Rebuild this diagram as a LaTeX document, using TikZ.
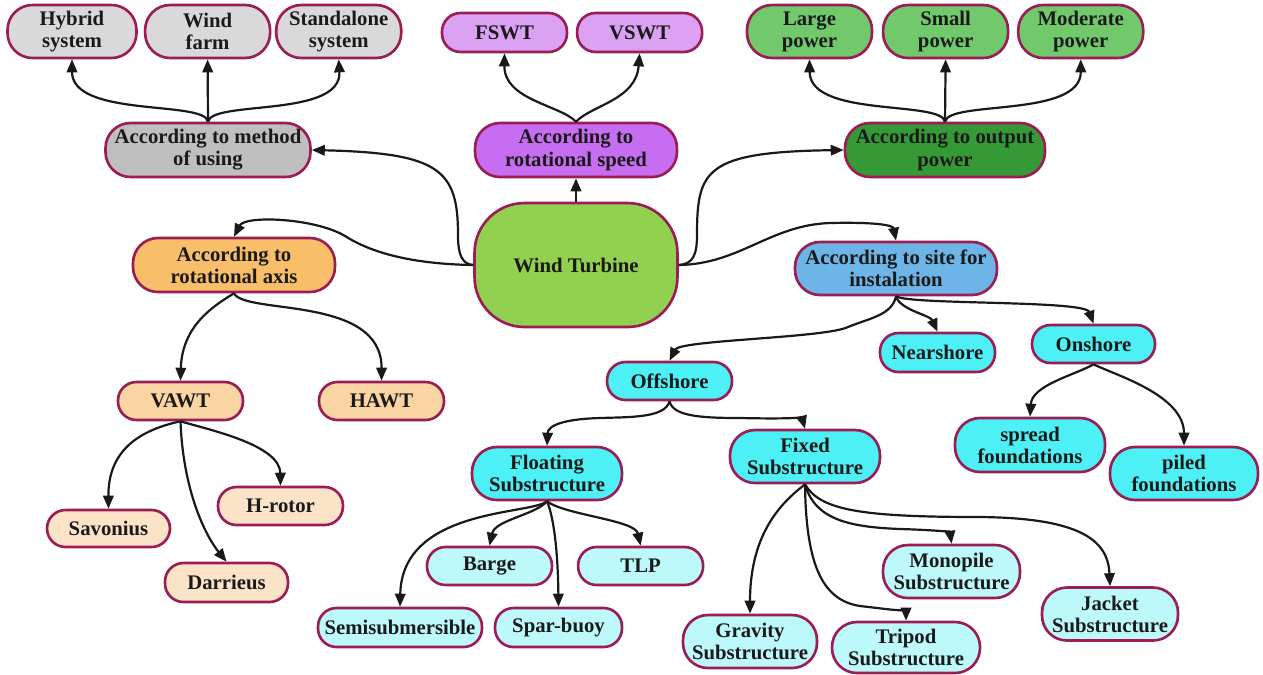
\documentclass[tikz,border=0pt]{standalone}
\usepackage{fontspec}
\setmainfont{Liberation Serif}
\usetikzlibrary{arrows.meta,positioning}
\definecolor{rim}{HTML}{9B1D55}
\definecolor{ink}{HTML}{1A1A1A}
\definecolor{turbgreen}{HTML}{92D050}
\definecolor{uselight}{HTML}{D9D9D9}
\definecolor{usedark}{HTML}{BFBFBF}
\definecolor{speedlight}{HTML}{DBA2F4}
\definecolor{speeddark}{HTML}{C76DF2}
\definecolor{powerlight}{HTML}{72C96C}
\definecolor{powerdark}{HTML}{359A35}
\definecolor{axisorange}{HTML}{F8BE6A}
\definecolor{axislight}{HTML}{F9D5A4}
\definecolor{rotorcream}{HTML}{FBE3C7}
\definecolor{siteblue}{HTML}{6DB5E6}
\definecolor{shorecyan}{HTML}{4DF0F5}
\definecolor{subpale}{HTML}{BDF8FA}

\begin{document}
\begin{tikzpicture}[
    x=0.02cm, y=-0.02cm,
    font=\bfseries\fontsize{11.8}{12.6}\selectfont,
    text=ink,
    bubble/.style={
        draw=rim,
        line width=1.5pt,
        rounded corners=3.7mm,
        align=center,
        inner sep=0pt,
        minimum width=2.5cm,
        minimum height=0.76cm
    },
    tall/.style={bubble, rounded corners=5mm, minimum height=1.06cm},
    crit/.style={tall, minimum width=4.04cm, minimum height=1.08cm},
    link/.style={-{Triangle[length=2.6mm, width=2.1mm]}, line width=1.25pt, draw=black!90}
]
\useasboundingbox (0,0) rectangle (1263,674);

\node[tall, fill=turbgreen, minimum width=4.06cm, minimum height=2.48cm,
    rounded corners=10mm] (turbine) at (576,265) {Wind Turbine};

\node[crit, fill=usedark, minimum width=4.1cm] (method) at (208,150) {According to method\\of using};
\node[tall, fill=uselight, minimum width=2.58cm] (hybrid) at (72,31.5) {Hybrid\\system};
\node[tall, fill=uselight, right=1.2mm of hybrid] (windfarm) {Wind\\farm};
\node[tall, fill=uselight, right=0.7mm of windfarm] (standalone) {Standalone\\system};

\node[crit, fill=speeddark] (speed) at (576,150) {According to\\rotational speed};
\node[bubble, fill=speedlight, minimum height=0.78cm] (fswt) at (504.5,32.5) {FSWT};
\node[bubble, fill=speedlight, minimum height=0.78cm, right=1.5mm of fswt] (vswt) {VSWT};

\node[crit, fill=powerdark, minimum width=4cm] (output) at (945,150) {According to output\\power};
\node[tall, fill=powerlight] (large) at (809.5,31.5) {Large\\power};
\node[tall, fill=powerlight, right=1.7mm of large] (small) {Small\\power};
\node[tall, fill=powerlight, right=1.5mm of small] (moderate) {Moderate\\power};

\node[crit, fill=axisorange] (axis) at (234,265) {According to\\rotational axis};
\node[bubble, fill=axislight] (vawt) at (180.5,401) {VAWT};
\node[bubble, fill=axislight] (hawt) at (381.5,401) {HAWT};
\node[bubble, fill=rotorcream] (hrotor) at (280.5,506) {H-rotor};
\node[bubble, fill=rotorcream, minimum width=2.46cm, minimum height=0.74cm] (savonius) at (108.5,528.5) {Savonius};
\node[bubble, fill=rotorcream, minimum width=2.46cm, minimum height=0.78cm] (darrieus) at (226.5,582.5) {Darrieus};

\node[crit, fill=siteblue, minimum height=1.06cm] (site) at (896,268.5) {According to site for\\instalation};
\node[bubble, fill=shorecyan, minimum width=2.3cm, minimum height=0.78cm] (nearshore) at (937.5,352.5) {Nearshore};
\node[bubble, fill=shorecyan, minimum width=2.46cm] (onshore) at (1093.5,344) {Onshore};
\node[bubble, fill=shorecyan] (offshore) at (669.5,381) {Offshore};
\node[tall, fill=shorecyan, minimum width=3cm, minimum height=1.08cm] (spread) at (1030,445) {spread\\foundations};
\node[tall, fill=shorecyan, minimum width=2.96cm] (piled) at (1184,473.5) {piled\\foundations};
\node[tall, fill=shorecyan, minimum width=3cm] (floating) at (547,473.5) {Floating\\Substructure};
\node[tall, fill=shorecyan, minimum width=3cm] (fixed) at (805,456.5) {Fixed\\Substructure};

\node[bubble, fill=subpale] (barge) at (489.5,566) {Barge};
\node[bubble, fill=subpale, right=4.7mm of barge] (tlp) {TLP};
\node[bubble, fill=subpale, minimum width=3.28cm, minimum height=0.78cm] (semisub) at (400,627.5) {Semisubmersible};
\node[bubble, fill=subpale, minimum width=2.54cm, minimum height=0.78cm] (spar) at (558.5,627.5) {Spar-buoy};
\node[tall, fill=subpale, minimum width=2.74cm] (monopile) at (951.5,571.5) {Monopile\\Substructure};
\node[tall, fill=subpale, minimum width=2.72cm] (jacket) at (1110,614) {Jacket\\Substructure};
\node[tall, fill=subpale, minimum width=2.68cm] (gravity) at (750,641.5) {Gravity\\Substructure};
\node[tall, fill=subpale, minimum width=2.96cm, minimum height=1.02cm] (tripod) at (906,647.5) {Tripod\\Substructure};

\draw[link] (turbine.north) -- (speed.south);
\draw[link] (turbine.west) .. controls (462,264) and (458,255) .. (458,235)
    .. controls (458,170) and (440,153) .. (method.east);
\draw[link] (turbine.east) .. controls (693,264) and (697,255) .. (697,235)
    .. controls (697,170) and (705,152) .. (output.west);
\draw[link] (turbine.west) .. controls (410,264) and (370,252) .. (345,236)
    .. controls (315,218) and (245,215) .. (axis.north);
\draw[link] (turbine.east) .. controls (740,264) and (770,225) .. (830,223)
    .. controls (875,222) and (893,225) .. (site.north);

\draw[link] (method.north) .. controls (205,100) and (72,118) .. (hybrid.south);
\draw[link] (method.north) -- (windfarm.south);
\draw[link] (method.north) .. controls (212,100) and (342,118) .. (standalone.south);

\draw[link] (speed.north) .. controls (560,105) and (504,100) .. (fswt.south);
\draw[link] (speed.north) .. controls (592,105) and (636,100) .. (vswt.south);

\draw[link] (output.north) .. controls (941,100) and (810,118) .. (large.south);
\draw[link] (output.north) -- (small.south);
\draw[link] (output.north) .. controls (949,100) and (1081,118) .. (moderate.south);

\draw[link] (axis.south) .. controls (215,305) and (182,325) .. (vawt.north);
\draw[link] (axis.south) .. controls (245,315) and (382,295) .. (hawt.north);
\draw[link] (vawt.south) .. controls (140,430) and (108,450) .. (savonius.north);
\draw[link] (vawt.south) .. controls (183,490) and (205,535) .. (darrieus.north);
\draw[link] (vawt.south) .. controls (210,430) and (280,445) .. (hrotor.north);

\draw[link] (site.south) .. controls (900,310) and (930,315) .. (nearshore.north);
\draw[link] (site.south) .. controls (910,305) and (1085,300) .. (onshore.north);
\draw[link] (site.south) .. controls (892,315) and (870,318) .. (848,327)
    .. controls (825,338) and (680,340) .. (offshore.north);
\draw[link] (onshore.south) .. controls (1075,375) and (1032,385) .. (spread.north);
\draw[link] (onshore.south) .. controls (1115,375) and (1184,395) .. (piled.north);

\draw[link] (offshore.south) .. controls (665,418) and (630,417) .. (600,418)
    .. controls (565,419) and (548,425) .. (floating.north);
\draw[link] (offshore.south) .. controls (673,416) and (700,418) .. (740,418)
    .. controls (785,419) and (802,418) .. (fixed.north);

\draw[link] (floating.south) .. controls (530,515) and (402,508) .. (semisub.north);
\draw[link] (floating.south) .. controls (535,515) and (495,520) .. (barge.north);
\draw[link] (floating.south) .. controls (555,520) and (558,560) .. (spar.north);
\draw[link] (floating.south) .. controls (565,515) and (635,520) .. (tlp.north);

\draw[link] (fixed.south) .. controls (785,500) and (750,530) .. (gravity.north);
\draw[link] (fixed.south) .. controls (806,560) and (820,600) .. (860,606)
    .. controls (895,610) and (906,612) .. (tripod.north);
\draw[link] (fixed.south) .. controls (815,520) and (850,527) .. (900,529)
    .. controls (935,530) and (950,532) .. (monopile.north);
\draw[link] (fixed.south) .. controls (820,510) and (860,517) .. (980,517)
    .. controls (1080,518) and (1108,540) .. (jacket.north);

\end{tikzpicture}
\end{document}
